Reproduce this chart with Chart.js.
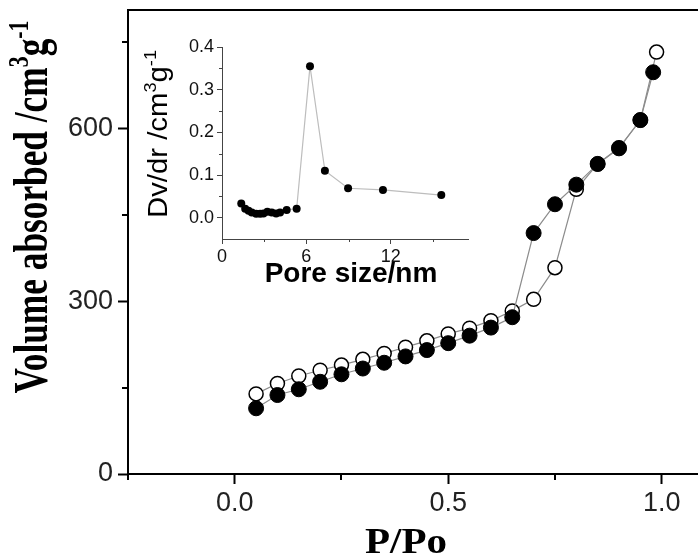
<!DOCTYPE html>
<html><head><meta charset="utf-8">
<script src="https://cdn.jsdelivr.net/npm/chart.js@4.4.1/dist/chart.umd.min.js"></script>
<style>
html,body{margin:0;padding:0;background:#fff;}
#wrap{position:relative;width:698px;height:560px;background:#fff;}
#main{position:absolute;left:0;top:0;}
#inset{position:absolute;left:130px;top:28px;}
</style></head><body>
<div id="wrap">
<canvas id="main" width="698" height="560"></canvas>
<canvas id="inset" width="350" height="262"></canvas>
</div>
<script>
// ---- main isotherm data ----
const adsorbX = [0.05,0.10,0.15,0.20,0.25,0.30,0.35,0.40,0.45,0.50,0.55,0.60,0.65,0.70,0.75,0.80,0.85,0.90,0.95,0.98];
const adsorbY = [114,137,147,160,173,183,193,204,215,227,240,254,272,418,468,502,538,565,614,697];
const desorbX = [0.05,0.10,0.15,0.20,0.25,0.30,0.35,0.40,0.45,0.50,0.55,0.60,0.65,0.70,0.75,0.80,0.85,0.90,0.95,0.988];
const desorbY = [139,157,170,180,189,199,209,220,231,243,253,266,283,303,358,494,538,566,614,732];
const xTicks = [0, 0.5, 1.0];
const xTickLabels = ['0.0','0.5','1.0'];
const xMinor = [-0.25, 0.25, 0.75];
const yTicks = [0, 300, 600];
const yTickLabels = ['0','300','600'];
const yMinor = [150, 450, 750];

// ---- inset pore size distribution ----
const poreX = [1.37,1.65,1.89,2.12,2.43,2.71,2.95,3.23,3.54,3.85,4.13,4.6,5.31,6.26,7.32,8.97,11.45,15.6];
const poreY = [0.033,0.021,0.016,0.012,0.009,0.009,0.010,0.014,0.012,0.010,0.012,0.018,0.021,0.355,0.110,0.069,0.065,0.053];
const ixTicks = [0, 6, 12];
const ixTickLabels = ['0','6','12'];
const ixMinor = [3, 9, 15];
const iyTicks = [0, 0.1, 0.2, 0.3, 0.4];
const iyTickLabels = ['0.0','0.1','0.2','0.3','0.4'];
const iyMinor = [0.05, 0.15, 0.25, 0.35];

const SERIF = "'Liberation Serif','Times New Roman',serif";
const SANS = "'Liberation Sans',Arial,sans-serif";

function pts(xs, ys){ return xs.map((x,i)=>({x:x, y:ys[i]})); }
function labelFrom(vals, labels){ return v => { const i = vals.findIndex(t=>Math.abs(t-v)<1e-9); return i<0?'':labels[i]; }; }
function noPad(s){ s.paddingTop = 0; s.paddingBottom = 0; s.paddingLeft = 0; s.paddingRight = 0; }

const minorPlugin = {
  id:'minorTicks',
  afterDraw(chart, args, o){
    const ctx = chart.ctx, xs = chart.scales.x, ys = chart.scales.y, a = chart.chartArea;
    ctx.save(); ctx.strokeStyle = o.color; ctx.lineWidth = o.width;
    ctx.beginPath();
    (o.x||[]).forEach(v=>{ const p = Math.round(xs.getPixelForValue(v))+0.5*(o.width%2); ctx.moveTo(p, a.bottom); ctx.lineTo(p, a.bottom+o.len); });
    (o.y||[]).forEach(v=>{ const p = Math.round(ys.getPixelForValue(v))+0.5*(o.width%2); ctx.moveTo(a.left, p); ctx.lineTo(a.left-o.len, p); });
    ctx.stroke(); ctx.restore();
  }
};

function drawRich(ctx, t){
  const fs = s => (t.weight||'normal')+' '+(s? t.size*0.62 : t.size)+'px '+t.family;
  let total = 0; const w = [];
  t.segs.forEach(s=>{ ctx.font = fs(s.sup); const m = ctx.measureText(s.t).width; w.push(m); total += m; });
  const k = t.len ? t.len/total : 1;
  ctx.save();
  ctx.translate(t.x, t.y); ctx.rotate(t.rot||0); ctx.scale(k,1);
  ctx.fillStyle = t.color||'#000'; ctx.textAlign='left'; ctx.textBaseline='alphabetic';
  let x = -total/2;
  t.segs.forEach((s,i)=>{ ctx.font = fs(s.sup); ctx.fillText(s.t, x, s.sup ? -t.size*0.40 : 0); x += w[i]; });
  ctx.restore();
}
const titlePlugin = {
  id:'titles',
  afterDraw(chart, args, o){ (o.items||[]).forEach(t=>drawRich(chart.ctx, t)); }
};

new Chart(document.getElementById('main'), {
  type:'scatter',
  data:{ datasets:[
    { label:'Adsorption', data:pts(adsorbX, adsorbY), showLine:true, borderColor:'#8c8c8c', borderWidth:1.2,
      pointRadius:7.5, pointHoverRadius:7.5, pointBackgroundColor:'#000', pointBorderColor:'#000', pointBorderWidth:1 },
    { label:'Desorption', data:pts(desorbX, desorbY), showLine:true, borderColor:'#8c8c8c', borderWidth:1.2,
      pointRadius:7, pointHoverRadius:7, pointBackgroundColor:'#fff', pointBorderColor:'#000', pointBorderWidth:1.5 }
  ]},
  options:{
    responsive:false, animation:false, events:[],
    layout:{padding:0, autoPadding:false},
    plugins:{
      legend:{display:false}, tooltip:{enabled:false},
      minorTicks:{x:xMinor, y:yMinor, len:6, color:'#000', width:2},
      titles:{items:[
        {segs:[{t:'Volume absorbed /cm'},{t:'3',sup:true},{t:'g'},{t:'-1',sup:true}], family:SERIF, weight:'bold', size:48, x:47, y:207, rot:-Math.PI/2, len:373},
        {segs:[{t:'P/Po'}], family:SERIF, weight:'bold', size:35, x:406, y:553, len:82}
      ]}
    },
    scales:{
      x:{ type:'linear', min:-0.25, max:1.085,
        afterBuildTicks:s=>{ s.ticks = xTicks.map(v=>({value:v})); },
        afterFit:s=>{ s.height = 86; noPad(s); },
        ticks:{ callback:labelFrom(xTicks,xTickLabels), font:{family:SANS,size:27}, color:'#222', padding:3, maxRotation:0, autoSkip:false },
        grid:{ drawOnChartArea:false, tickLength:10, tickColor:'#000', tickWidth:2 },
        border:{ color:'#000', width:2 }
      },
      y:{ type:'linear', min:0, max:805,
        afterBuildTicks:s=>{ s.ticks = yTicks.map(v=>({value:v})); },
        afterFit:s=>{ s.width = 128; noPad(s); },
        ticks:{ callback:labelFrom(yTicks,yTickLabels), font:{family:SANS,size:27}, color:'#222', padding:5, autoSkip:false },
        grid:{ drawOnChartArea:false, tickLength:10, tickColor:'#000', tickWidth:2 },
        border:{ color:'#000', width:2 }
      },
      x2:{ type:'linear', position:'top', min:-0.25, max:1.085, display:true,
        afterFit:s=>{ s.height = 10; noPad(s); },
        ticks:{ display:false }, grid:{ display:false, drawTicks:false },
        border:{ display:true, color:'#000', width:2 }
      }
    }
  },
  plugins:[minorPlugin, titlePlugin]
});

new Chart(document.getElementById('inset'), {
  type:'scatter',
  data:{ datasets:[
    { label:'Pore size distribution', data:pts(poreX, poreY), showLine:true, borderColor:'#bdbdbd', borderWidth:1.2,
      pointRadius:4, pointHoverRadius:4, pointBackgroundColor:'#000', pointBorderColor:'#000', pointBorderWidth:0 }
  ]},
  options:{
    responsive:false, animation:false, events:[],
    layout:{padding:{top:19, right:12, left:0, bottom:0}, autoPadding:false},
    plugins:{
      legend:{display:false}, tooltip:{enabled:false},
      minorTicks:{x:ixMinor, y:iyMinor, len:3, color:'#444', width:1},
      titles:{items:[
        {segs:[{t:'Dv/dr /cm'},{t:'3',sup:true},{t:'g'},{t:'-1',sup:true}], family:SANS, size:27, x:37, y:106, rot:-Math.PI/2, len:168},
        {segs:[{t:'Pore size/nm'}], family:SANS, weight:'bold', size:28, x:221, y:254}
      ]}
    },
    scales:{
      x:{ type:'linear', min:0, max:17.5,
        afterBuildTicks:s=>{ s.ticks = ixTicks.map(v=>({value:v})); },
        afterFit:s=>{ s.height = 51; noPad(s); },
        ticks:{ callback:labelFrom(ixTicks,ixTickLabels), font:{family:SANS,size:18}, color:'#111', padding:2, maxRotation:0, autoSkip:false },
        grid:{ drawOnChartArea:false, tickLength:5, tickColor:'#444', tickWidth:1 },
        border:{ color:'#444', width:1 }
      },
      y:{ type:'linear', min:-0.05, max:0.4,
        afterBuildTicks:s=>{ s.ticks = iyTicks.map(v=>({value:v})); },
        afterFit:s=>{ s.width = 92; noPad(s); },
        ticks:{ callback:labelFrom(iyTicks,iyTickLabels), font:{family:SANS,size:18}, color:'#111', padding:3, autoSkip:false },
        grid:{ drawOnChartArea:false, tickLength:5, tickColor:'#444', tickWidth:1 },
        border:{ color:'#444', width:1 }
      }
    }
  },
  plugins:[minorPlugin, titlePlugin]
});
</script>
</body></html>
